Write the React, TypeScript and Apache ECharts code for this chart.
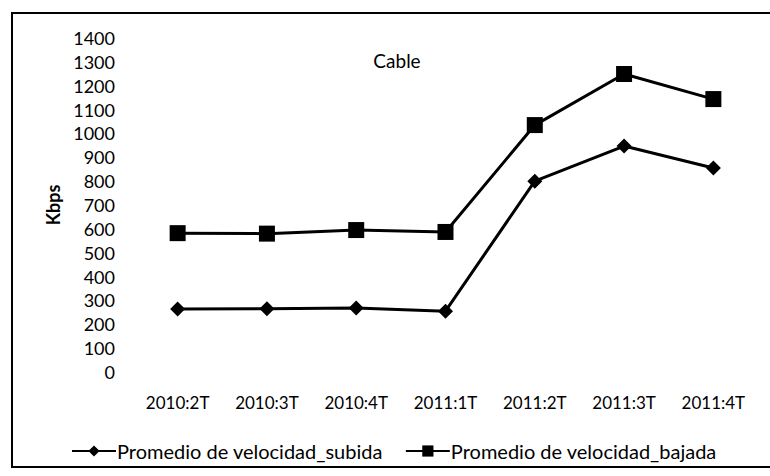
import React, { useEffect, useRef } from "react";
import * as echarts from "echarts";

const categories = ["2010:2T", "2010:3T", "2010:4T", "2011:1T", "2011:2T", "2011:3T", "2011:4T"];
const subida = [264, 265, 268, 255, 800, 947, 855];
const bajada = [582, 580, 595, 587, 1035, 1249, 1144];
const seriesNames = ["Promedio de velocidad_subida", "Promedio de velocidad_bajada"];
const chartTitle = "Cable";
const yName = "Kbps";

export default function App() {
  const ref = useRef<HTMLDivElement>(null);
  useEffect(() => {
    const chart = echarts.init(ref.current!, null, { renderer: "svg" });
    const font = "Lato";
    chart.setOption({
      animation: false,
      backgroundColor: "#fff",
      textStyle: { fontFamily: font, color: "#000" },
      title: {
        text: chartTitle,
        left: 392,
        top: 46,
        textAlign: "center",
        textStyle: { fontFamily: font, fontSize: 19, fontWeight: "normal", color: "#000" },
      },
      graphic: [
        {
          type: "rect",
          shape: { x: 12, y: 13, width: 780, height: 454 },
          style: { fill: "none", stroke: "#000", lineWidth: 2 },
          silent: true,
        },
      ],
      legend: {
        left: 66,
        top: 436,
        itemWidth: 44,
        itemHeight: 14,
        itemGap: 22,
        textStyle: { fontFamily: font, fontSize: 20, color: "#000", padding: [0, 0, 0, -4] },
        data: seriesNames,
      },
      grid: { left: 133, right: 12, top: 38, height: 334 },
      xAxis: {
        type: "category",
        data: categories,
        boundaryGap: true,
        axisLine: { show: false },
        axisTick: { show: false },
        axisLabel: { fontFamily: font, fontSize: 17, color: "#000", margin: 22 },
      },
      yAxis: {
        type: "value",
        min: 0,
        max: 1400,
        interval: 100,
        name: yName,
        nameLocation: "middle",
        nameGap: 62,
        nameRotate: 90,
        nameTextStyle: { fontFamily: font, fontSize: 18, fontWeight: "bold", color: "#000" },
        axisLine: { show: false },
        axisTick: { show: false },
        splitLine: { show: false },
        axisLabel: {
          fontFamily: font,
          fontSize: 18,
          color: "#000",
          margin: 18,
          formatter: (v: number) => String(v),
        },
      },
      series: [
        {
          name: seriesNames[0],
          type: "line",
          data: subida,
          symbol: "diamond",
          symbolSize: 15,
          lineStyle: { color: "#000", width: 3 },
          itemStyle: { color: "#000" },
        },
        {
          name: seriesNames[1],
          type: "line",
          data: bajada,
          symbol: "rect",
          symbolSize: 16,
          lineStyle: { color: "#000", width: 3 },
          itemStyle: { color: "#000" },
        },
      ],
    });
    return () => chart.dispose();
  }, []);
  return <div ref={ref} style={{ width: 770, height: 476, position: "absolute", left: 0, top: 0 }} />;
}
